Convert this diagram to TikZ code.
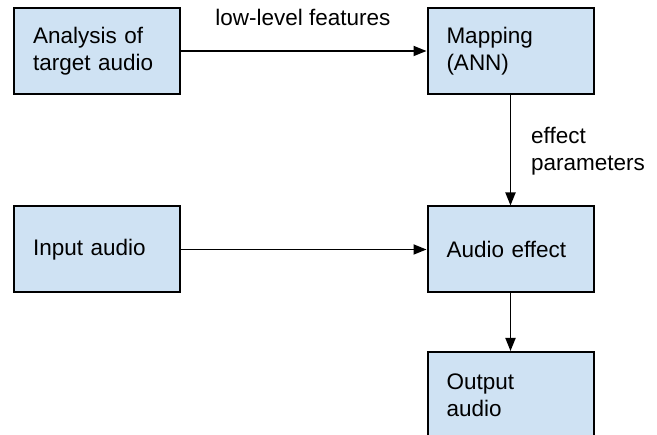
\documentclass[tikz,border=0pt]{standalone}
\usepackage{fontspec}
\setmainfont{Liberation Sans}
\usetikzlibrary{arrows.meta}
\definecolor{boxblue}{HTML}{CFE2F3}
\tikzset{
  blk/.style={draw=black, line width=2pt, fill=boxblue, minimum width=166pt, minimum height=86pt,
    text width=128pt, align=left, inner xsep=19pt, inner ysep=0pt,
    font=\fontsize{22.5}{27}\selectfont},
  conn/.style={line width=1.8pt, -{Triangle[length=13pt,width=10pt]}},
  lbl/.style={font=\fontsize{22.5}{27}\selectfont, inner sep=0pt}
}
\begin{document}
\begin{tikzpicture}[x=1pt,y=-1pt]
\useasboundingbox (0,0) rectangle (657,435);
\clip (0,0) rectangle (657,435);
\node[blk] (A) at (97,51) {Analysis of\\target audio};
\node[blk] (M) at (510.5,51) {Mapping\\(ANN)};
\node[blk] (I) at (97,249.5) {Input audio};
\node[blk] (E) at (510.5,249.5) {Audio effect};
\node[blk] (O) at (510.5,395) {Output\\audio};
\draw[conn] (A.east) -- (M.west);
\draw[conn] (I.east) -- (E.west);
\draw[conn] (M.south) -- (E.north);
\draw[conn] (E.south) -- (O.north);
\node[lbl, anchor=base] (lf) at (303,26) {low-level features};
\node[lbl, anchor=north west, align=left] (ep) at (531,127) {effect\\parameters};
\end{tikzpicture}
\end{document}
